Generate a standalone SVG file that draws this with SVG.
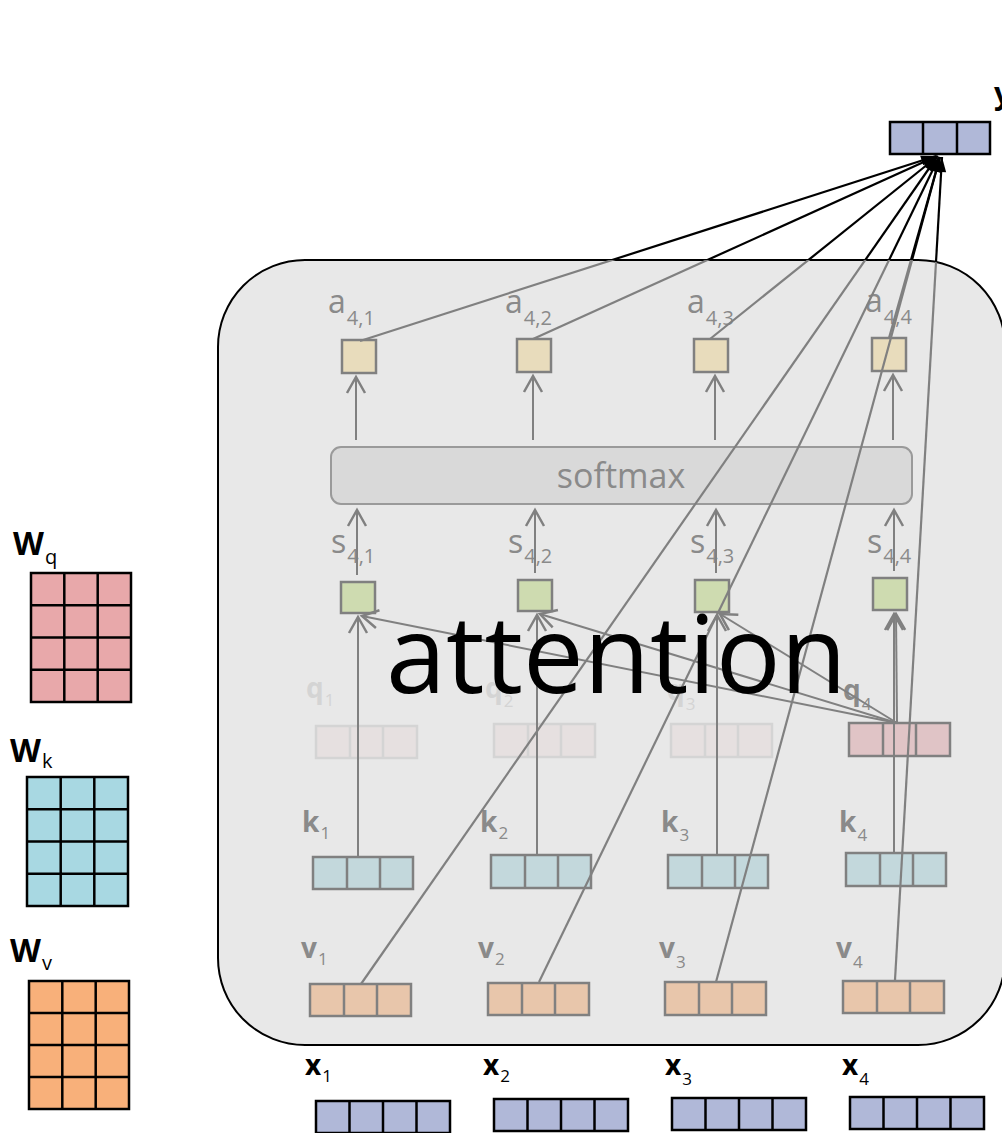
<svg xmlns="http://www.w3.org/2000/svg" xmlns:xlink="http://www.w3.org/1999/xlink" width="1002" height="1133" viewBox="0 0 1002 1133">
<style>
.lbl{font-family:"Open Sans","DejaVu Sans",sans-serif;font-size:32px;fill:#8a8a8a}
.sub{font-size:20px}
.bl{font-family:"Open Sans","DejaVu Sans",sans-serif;font-weight:bold;font-size:28px;fill:#8a8a8a}
.bsub{font-weight:normal;font-size:17px}
.fade{fill:#d4d4d4}
.wl{font-family:"Open Sans","DejaVu Sans",sans-serif;font-weight:bold;font-size:32px;fill:#000}
.wsub{font-weight:normal;font-size:20px}
.xl{font-size:28px}
.xsub{font-size:17px}
.gbox{stroke:#808080;stroke-width:2.5}
.abox{fill:#e8dcbc}
.sbox{fill:#cedbb0}
.kbox{fill:#c3d8dc}
.vbox{fill:#e8c6ab}
.qf{fill:#e6e0e0;stroke:#d4d4d4;stroke-width:2.5}
.q4{fill:#e0c4c6}
.xbox{fill:#b0b8d8;stroke:#000;stroke-width:2.5}
.gl{stroke:#808080;stroke-width:2;fill:none}
.arr{marker-end:url(#open)}
</style>
<defs>
<marker id="open" markerUnits="userSpaceOnUse" markerWidth="24" markerHeight="24" viewBox="-18 -12 24 24" refX="0" refY="0" orient="auto">
<path d="M-16,-9 L0,0 L-16,9" fill="none" stroke="#808080" stroke-width="2.5"/>
</marker>
<marker id="solid" markerUnits="userSpaceOnUse" markerWidth="20" markerHeight="20" viewBox="-16 -10 20 20" refX="0" refY="0" orient="auto">
<path d="M-15,-5 L0,0 L-15,5 Z" fill="#000"/>
</marker>
<clipPath id="inBox"><rect x="218" y="260" width="787" height="785" rx="87"/></clipPath>
<clipPath id="outBox"><path clip-rule="evenodd" d="M0,0H1002V1133H0Z M305,260 H918 A87,87 0 0 1 1005,347 V958 A87,87 0 0 1 918,1045 H305 A87,87 0 0 1 218,958 V347 A87,87 0 0 1 305,260 Z"/></clipPath>
<g id="ylines" fill="none" stroke-width="2.2">
<path d="M360,341 L936,156"/>
<path d="M533,339 L937,156"/>
<path d="M710,339 L938,156"/>
<path d="M889,338 L940,157"/>
<path d="M361,984 L937,157"/>
<path d="M539,982 L939,157"/>
<path d="M716,982 L940,157"/>
<path d="M895,980 L942,157"/>
</g>
</defs>

<rect width="1002" height="1133" fill="#fff"/>

<g id="attention-box">
<rect x="218" y="260" width="787" height="785" rx="87" fill="#e8e8e8" stroke="#000" stroke-width="2"/>
</g>

<g id="softmax">
<rect x="331" y="447" width="581" height="57" rx="10" fill="#d9d9d9" stroke="#9a9a9a" stroke-width="2"/>
<text x="621" y="488" text-anchor="middle" class="lbl" style="font-size:34px">softmax</text>
</g>

<g id="a-nodes">
<g id="a41"><rect class="abox gbox" x="342" y="340" width="34" height="33"/><text class="lbl" x="328" y="313">a<tspan class="sub" dx="1" dy="12">4,1</tspan></text></g>
<g id="a42"><rect class="abox gbox" x="517" y="339" width="34" height="33"/><text class="lbl" x="505" y="313">a<tspan class="sub" dx="1" dy="12">4,2</tspan></text></g>
<g id="a43"><rect class="abox gbox" x="694" y="339" width="34" height="33"/><text class="lbl" x="687" y="313">a<tspan class="sub" dx="1" dy="12">4,3</tspan></text></g>
<g id="a44"><rect class="abox gbox" x="872" y="338" width="34" height="33"/><text class="lbl" x="865" y="312">a<tspan class="sub" dx="1" dy="12">4,4</tspan></text></g>
</g>

<g id="s-nodes">
<g id="s41"><rect class="sbox gbox" x="341" y="582" width="34" height="31"/><text class="lbl" x="331" y="553">s<tspan class="sub" dx="1" dy="10">4,1</tspan></text></g>
<g id="s42"><rect class="sbox gbox" x="518" y="580" width="34" height="31"/><text class="lbl" x="508" y="553">s<tspan class="sub" dx="1" dy="10">4,2</tspan></text></g>
<g id="s43"><rect class="sbox gbox" x="695" y="580" width="34" height="32"/><text class="lbl" x="690" y="553">s<tspan class="sub" dx="1" dy="10">4,3</tspan></text></g>
<g id="s44"><rect class="sbox gbox" x="873" y="578" width="34" height="32"/><text class="lbl" x="867" y="553">s<tspan class="sub" dx="1" dy="10">4,4</tspan></text></g>
</g>

<g id="q-nodes">
<g id="q1"><rect class="qf" x="316" y="726" width="101" height="32"/><path class="qf" d="M350,726V758M383,726V758"/><text class="bl fade" x="306" y="698">q<tspan class="bsub" dx="1" dy="8">1</tspan></text></g>
<g id="q2"><rect class="qf" x="494" y="724" width="101" height="33"/><path class="qf" d="M528,724V757M561,724V757"/><text class="bl fade" x="485" y="698">q<tspan class="bsub" dx="1" dy="9">2</tspan></text></g>
<g id="q3"><rect class="qf" x="671" y="724" width="101" height="33"/><path class="qf" d="M705,724V757M738,724V757"/><text class="bl fade" x="667" y="700">q<tspan class="bsub" dx="1" dy="10">3</tspan></text></g>
<g id="q4"><rect class="q4 gbox" x="849" y="723" width="101" height="33"/><path class="gbox" d="M883,723V756M916,723V756"/><text class="bl" x="843" y="700">q<tspan class="bsub" dx="1" dy="10">4</tspan></text></g>
</g>

<g id="k-nodes">
<g id="k1"><rect class="kbox gbox" x="313" y="857" width="100" height="32"/><path class="gbox" d="M347,857V889M380,857V889"/><text class="bl" x="302" y="832">k<tspan class="bsub" dx="1" dy="7">1</tspan></text></g>
<g id="k2"><rect class="kbox gbox" x="491" y="855" width="100" height="33"/><path class="gbox" d="M525,855V888M558,855V888"/><text class="bl" x="480" y="832">k<tspan class="bsub" dx="1" dy="7">2</tspan></text></g>
<g id="k3"><rect class="kbox gbox" x="668" y="855" width="100" height="33"/><path class="gbox" d="M702,855V888M735,855V888"/><text class="bl" x="661" y="832">k<tspan class="bsub" dx="1" dy="9">3</tspan></text></g>
<g id="k4"><rect class="kbox gbox" x="846" y="853" width="100" height="33"/><path class="gbox" d="M880,853V886M913,853V886"/><text class="bl" x="839" y="832">k<tspan class="bsub" dx="1" dy="9">4</tspan></text></g>
</g>

<g id="v-nodes">
<g id="v1"><rect class="vbox gbox" x="310" y="984" width="101" height="32"/><path class="gbox" d="M344,984V1016M377,984V1016"/><text class="bl" x="301" y="958">v<tspan class="bsub" dx="1" dy="7">1</tspan></text></g>
<g id="v2"><rect class="vbox gbox" x="488" y="983" width="101" height="32"/><path class="gbox" d="M522,983V1015M555,983V1015"/><text class="bl" x="478" y="958">v<tspan class="bsub" dx="1" dy="7">2</tspan></text></g>
<g id="v3"><rect class="vbox gbox" x="665" y="982" width="101" height="33"/><path class="gbox" d="M699,982V1015M732,982V1015"/><text class="bl" x="659" y="958">v<tspan class="bsub" dx="1" dy="10">3</tspan></text></g>
<g id="v4"><rect class="vbox gbox" x="843" y="981" width="101" height="32"/><path class="gbox" d="M877,981V1013M910,981V1013"/><text class="bl" x="836" y="958">v<tspan class="bsub" dx="1" dy="10">4</tspan></text></g>
</g>

<g id="x-nodes">
<g id="x1"><rect class="xbox" x="316" y="1101" width="134" height="32"/><path class="xbox" d="M349.5,1101V1133M383,1101V1133M416.5,1101V1133"/><text class="wl xl" x="305" y="1075">x<tspan class="wsub xsub" dx="1" dy="7">1</tspan></text></g>
<g id="x2"><rect class="xbox" x="494" y="1099" width="134" height="32"/><path class="xbox" d="M527.5,1099V1131M561,1099V1131M594.5,1099V1131"/><text class="wl xl" x="483" y="1075">x<tspan class="wsub xsub" dx="1" dy="7">2</tspan></text></g>
<g id="x3"><rect class="xbox" x="672" y="1098" width="134" height="32"/><path class="xbox" d="M705.5,1098V1130M739,1098V1130M772.5,1098V1130"/><text class="wl xl" x="665" y="1075">x<tspan class="wsub xsub" dx="1" dy="10">3</tspan></text></g>
<g id="x4"><rect class="xbox" x="850" y="1097" width="134" height="32"/><path class="xbox" d="M883.5,1097V1129M917,1097V1129M950.5,1097V1129"/><text class="wl xl" x="842" y="1075">x<tspan class="wsub xsub" dx="1" dy="10">4</tspan></text></g>
</g>

<g id="y-node">
<rect class="xbox" x="890" y="122" width="100" height="32"/><path class="xbox" d="M923,122V154M957,122V154"/>
<text class="wl" style="font-size:30px" x="994" y="104">y</text>
</g>

<g id="Wq">
<rect x="31" y="573" width="100" height="129" fill="#e8a8aa" stroke="#000" stroke-width="2.5"/>
<path d="M64.3,573V702M97.7,573V702M31,605.25H131M31,637.5H131M31,669.75H131" stroke="#000" stroke-width="2.5"/>
<text class="wl" x="13" y="555">W<tspan class="wsub" dx="1" dy="9">q</tspan></text>
</g>
<g id="Wk">
<rect x="27" y="777" width="101" height="129" fill="#a8d8e2" stroke="#000" stroke-width="2.5"/>
<path d="M60.7,777V906M94.3,777V906M27,809.25H128M27,841.5H128M27,873.75H128" stroke="#000" stroke-width="2.5"/>
<text class="wl" x="10" y="762">W<tspan class="wsub" dx="1" dy="6">k</tspan></text>
</g>
<g id="Wv">
<rect x="29" y="981" width="100" height="128" fill="#f8b07a" stroke="#000" stroke-width="2.5"/>
<path d="M62.3,981V1109M95.7,981V1109M29,1013H129M29,1045H129M29,1077H129" stroke="#000" stroke-width="2.5"/>
<text class="wl" x="10" y="962">W<tspan class="wsub" dx="1" dy="8">v</tspan></text>
</g>

<g id="connectors">
<g class="gl arr">
<path d="M356,440 V377"/>
<path d="M533,440 V376"/>
<path d="M715,440 V376"/>
<path d="M893,440 V375"/>
<path d="M357,575 V510"/>
<path d="M535,573 V510"/>
<path d="M716,573 V510"/>
<path d="M894,571 V510"/>
<path d="M358,856 V617"/>
<path d="M537,855 V615"/>
<path d="M717,855 V615"/>
<path d="M894,853 V614"/>
<path d="M897,723 L362,616"/>
<path d="M897,723 L540,614"/>
<path d="M897,723 L720,614"/>
<path d="M897,723 L896,614"/>
</g>
<use xlink:href="#ylines" stroke="#808080" clip-path="url(#inBox)"/>
<use xlink:href="#ylines" stroke="#000" clip-path="url(#outBox)" style="marker-end:url(#solid)"/>
</g>

<text x="386" y="693" font-family="Open Sans, DejaVu Sans, sans-serif" font-size="108" fill="#000">attention</text>
</svg>
